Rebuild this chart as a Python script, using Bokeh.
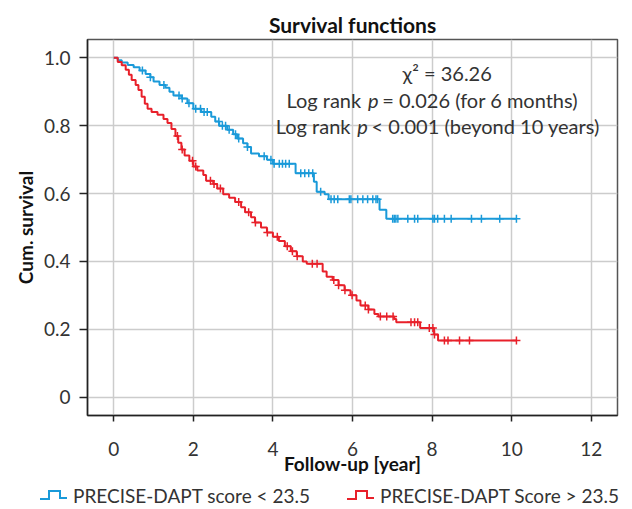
import numpy as np
from bokeh.plotting import figure
from bokeh.layouts import column
from bokeh.models import (Range1d, FixedTicker, Label, Div, CustomJSTickFormatter)
from bokeh.embed import file_html
from bokeh.resources import INLINE

# ---- data ----
blue_times = [0.10, 0.20, 0.35, 0.50, 0.65, 0.80, 0.92, 1.00, 1.15, 1.30, 1.40, 1.50, 1.70, 1.85,
              2.00, 2.20, 2.45, 2.55, 2.65, 2.85, 3.00, 3.10, 3.25, 3.36, 3.45, 3.65, 3.85, 4.00,
              4.57, 5.03, 5.10, 5.30, 5.40, 6.68, 6.85]
blue_surv = [0.993, 0.986, 0.979, 0.972, 0.963, 0.952, 0.943, 0.930, 0.920, 0.912, 0.900, 0.889, 0.880, 0.866,
             0.850, 0.840, 0.826, 0.812, 0.800, 0.788, 0.775, 0.762, 0.748, 0.737, 0.718, 0.710, 0.700, 0.688,
             0.660, 0.635, 0.605, 0.598, 0.583, 0.552, 0.526]
blue_end = 10.12
blue_censor = [0.72, 0.92, 1.26, 1.64, 1.72, 1.89, 2.06, 2.18, 2.27, 2.35, 2.64, 2.73, 2.81, 2.90,
               3.06, 3.14, 3.36, 3.78, 3.95, 4.03, 4.16, 4.24, 4.32, 4.41, 4.70, 4.80, 4.90, 5.00,
               5.20, 5.46, 5.54, 5.63, 5.92, 5.96, 6.13, 6.26, 6.38, 6.51, 6.59, 6.63,
               7.01, 7.05, 7.09, 7.14, 7.39, 7.56, 7.64, 8.02, 8.06, 8.14, 8.31, 8.48, 8.99, 9.24,
               9.70, 10.12]

red_times = [0.10, 0.20, 0.30, 0.38, 0.45, 0.55, 0.62, 0.70, 0.78, 0.85, 0.95, 1.10, 1.25, 1.35,
             1.45, 1.55, 1.62, 1.70, 1.78, 1.90, 2.00, 2.10, 2.25, 2.32, 2.50, 2.60, 2.75, 2.90,
             3.05, 3.20, 3.30, 3.45, 3.55, 3.70, 3.85, 4.00, 4.15, 4.30, 4.45, 4.60, 4.75, 4.85,
             5.25, 5.35, 5.50, 5.65, 5.80, 5.95, 6.10, 6.20, 6.40, 6.55, 6.65, 7.05, 7.10, 7.70,
             8.05, 8.15]
red_surv = [0.988, 0.978, 0.965, 0.950, 0.935, 0.920, 0.905, 0.885, 0.865, 0.850, 0.840, 0.832, 0.820, 0.808,
            0.790, 0.770, 0.750, 0.730, 0.712, 0.697, 0.680, 0.668, 0.655, 0.638, 0.628, 0.615, 0.598, 0.588,
            0.575, 0.560, 0.545, 0.530, 0.515, 0.500, 0.485, 0.473, 0.460, 0.445, 0.430, 0.415, 0.400, 0.393,
            0.370, 0.355, 0.345, 0.330, 0.315, 0.300, 0.285, 0.270, 0.258, 0.245, 0.238, 0.230, 0.221, 0.204,
            0.185, 0.167]
red_end = 10.12
red_censor = [1.60, 1.72, 1.98, 2.06, 2.43, 2.52, 2.68, 3.14, 3.39, 3.56, 3.86, 4.11, 4.36, 4.49,
              4.61, 4.99, 5.11, 5.53, 5.65, 5.81, 5.99, 6.32, 6.40, 6.70, 6.86, 7.02, 7.47, 7.56,
              7.64, 7.93, 8.02, 8.06, 8.31, 8.40, 8.69, 8.94, 10.12]

x_ticks = [0, 2, 4, 6, 8, 10, 12]
y_ticks = [0, 0.2, 0.4, 0.6, 0.8, 1.0]
legend_labels = ["PRECISE-DAPT score &lt; 23.5", "PRECISE-DAPT Score &gt; 23.5"]

BLUE = "#1a9ad9"
RED = "#e8202a"
FONT = "Lato"
TXT = "#333333"


def km_curve(times, surv, end):
    xs = [0.0] + list(times) + [end]
    ys = [1.0] + list(surv) + [surv[-1]]
    return xs, ys


def surv_at(times, surv, t):
    idx = np.searchsorted(np.array(times), np.array(t), side="right")
    s = np.concatenate([[1.0], np.array(surv)])
    return s[idx]


p = figure(width=624, height=480, output_backend="svg", toolbar_location=None,
           x_range=Range1d(-0.66, 12.66), y_range=Range1d(-0.054, 1.054),
           min_border_left=87, min_border_right=7, min_border_top=39, min_border_bottom=65,
           title="Survival functions")

p.title.text_font = FONT
p.title.text_font_size = "21px"
p.title.text_font_style = "bold"
p.title.align = "center"
p.title.vertical_align = "middle"
p.title.text_color = "#111111"
p.title.standoff = 3

bx, by = km_curve(blue_times, blue_surv, blue_end)
rx, ry = km_curve(red_times, red_surv, red_end)

p.step(bx, by, mode="after", line_color=BLUE, line_width=2)
p.step(rx, ry, mode="after", line_color=RED, line_width=2)

p.scatter(blue_censor, surv_at(blue_times, blue_surv, blue_censor), marker="cross",
          size=8, line_color=BLUE, line_width=1.5)
p.scatter(red_censor, surv_at(red_times, red_surv, red_censor), marker="cross",
          size=8, line_color=RED, line_width=1.5)

# axes
p.xaxis.ticker = FixedTicker(ticks=x_ticks)
p.yaxis.ticker = FixedTicker(ticks=y_ticks)
p.yaxis.formatter = CustomJSTickFormatter(code="return tick == 0 ? '0' : tick.toFixed(1);")
for ax in (p.xaxis[0], p.yaxis[0]):
    ax.axis_line_color = "#222222"
    ax.axis_line_width = 1.5
    ax.major_tick_line_color = "#222222"
    ax.major_tick_line_width = 1.5
    ax.major_tick_in = 0
    ax.minor_tick_line_color = None
    ax.major_label_text_font = FONT
    ax.major_label_text_font_size = "19px"
    ax.major_label_text_color = TXT
    ax.axis_label_text_font = FONT
    ax.axis_label_text_font_size = "19px"
    ax.axis_label_text_font_style = "bold"
    ax.axis_label_text_color = "#111111"
p.xaxis.major_tick_out = 6
p.yaxis.major_tick_out = 8
p.xaxis.major_label_standoff = 20
p.yaxis.major_label_standoff = 9
p.xaxis.axis_label = "Follow-up [year]"
p.yaxis.axis_label = "Cum. survival"
p.xaxis.axis_label_standoff = -7
p.yaxis.axis_label_standoff = 4

p.outline_line_color = "#555555"
p.outline_line_width = 1.5
p.xgrid.ticker = FixedTicker(ticks=x_ticks)
p.ygrid.ticker = FixedTicker(ticks=y_ticks)
p.grid.grid_line_color = "#cccccc"
p.grid.grid_line_width = 1.5

# annotation
p.add_layout(Label(x=8.38, y=0.954, text="χ² = 36.26", text_align="center", text_baseline="middle",
                   text_font=FONT, text_font_size="20px", text_color=TXT))
for (pc, yy, right) in [(6.52, 0.877, "= 0.026 (for 6 months)"),
                        (6.25, 0.800, "< 0.001 (beyond 10 years)")]:
    p.add_layout(Label(x=pc, y=yy, text="Log rank", text_align="right", text_baseline="middle",
                       x_offset=-12, text_font=FONT, text_font_size="20px", text_color=TXT))
    p.add_layout(Label(x=pc, y=yy, text="p", text_align="center", text_baseline="middle",
                       text_font=FONT, text_font_size="20px", text_font_style="italic", text_color=TXT))
    p.add_layout(Label(x=pc, y=yy, text=right, text_align="left", text_baseline="middle",
                       x_offset=9, text_font=FONT, text_font_size="20px", text_color=TXT))


# legend strip (HTML) below the chart
def icon(color):
    return ('<svg width="27" height="12" style="position:absolute;left:0;top:9px">'
            '<polyline points="0,10 9,10 9,2 20,2 20,9 27,9" fill="none" stroke="%s" '
            'stroke-width="2"/></svg>' % color)


def item(left, color, label):
    return ('<div style="position:absolute;left:%dpx;top:0;height:29px;width:290px">%s'
            '<span style="position:absolute;left:33px;top:4px;line-height:24px;white-space:nowrap">%s</span>'
            '</div>' % (left, icon(color), label))


html = ('<div style="position:relative;width:624px;height:29px;font-family:Lato;font-size:19px;'
        'color:%s">%s%s</div>' % (TXT, item(40, BLUE, legend_labels[0]), item(347, RED, legend_labels[1])))
legend_div = Div(text=html, width=624, height=29, margin=0)

layout = column(p, legend_div, spacing=0)
open("out.html", "w").write(file_html(layout, INLINE))
